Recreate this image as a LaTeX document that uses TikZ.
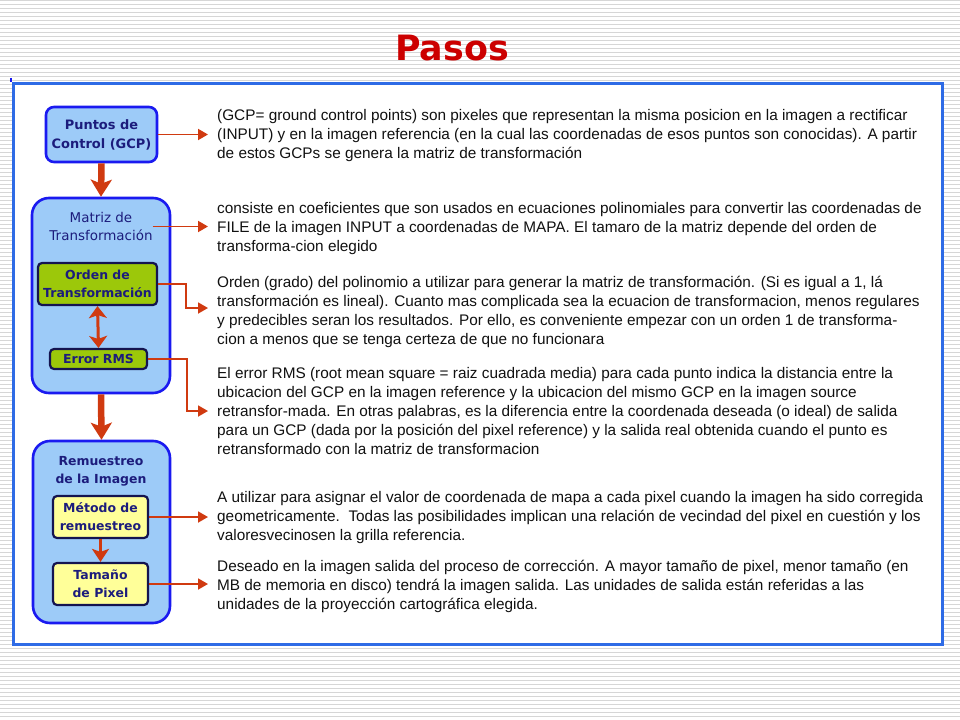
\documentclass[tikz,border=0pt]{standalone}
\usepackage{fontspec}
\setmainfont{Liberation Sans}
\newfontfamily\labfont{DejaVu Sans}
\usetikzlibrary{arrows.meta}
\definecolor{stripecol}{HTML}{D6D6D6}
\definecolor{framecol}{HTML}{2E6BE6}
\definecolor{titlered}{HTML}{CC0000}
\definecolor{boxfill}{HTML}{9DCBF8}
\definecolor{boxline}{HTML}{1A1AF0}
\definecolor{labcol}{HTML}{1C1C7C}
\definecolor{greenfill}{HTML}{9CC80A}
\definecolor{yellowfill}{HTML}{FFFF99}
\definecolor{innerline}{HTML}{141450}
\definecolor{arrowred}{HTML}{D03A10}
\definecolor{txtcol}{HTML}{111111}
\tikzset{
  stripe/.style={draw=stripecol, line width=1.1bp},
  framebox/.style={draw=framecol, line width=3bp, fill=white},
  titlestyle/.style={text=titlered, font=\labfont\bfseries\fontsize{35}{40}\selectfont, inner sep=0},
  bigbox/.style={draw=boxline, fill=boxfill, line width=2.6bp, inner sep=0, align=center, text=labcol},
  boxtitle/.style={inner sep=0, align=center, text=labcol},
  innerbox/.style={draw=innerline, line width=2.2bp, rounded corners=4bp, inner sep=0, align=center, text=labcol, font=\labfont\bfseries\fontsize{12.5}{18}\selectfont},
  txt/.style={anchor=base west, inner sep=0, text=txtcol, font=\fontsize{15.4}{19}\selectfont},
  thickarrow/.style={draw=arrowred, line width=6.5bp, -{Stealth[length=17bp,width=21bp,inset=4bp]}},
  midarrow/.style={draw=arrowred, line width=3.5bp, -{Stealth[length=13bp,width=17bp,inset=3bp]}},
  dblarrow/.style={draw=arrowred, line width=3bp, {Stealth[length=12bp,width=18bp,inset=3bp]}-{Stealth[length=12bp,width=18bp,inset=3bp]}},
  sidearrow/.style={draw=arrowred, line width=1.8bp, -{Triangle[length=10bp,width=11bp]}},
}
\begin{document}
\begin{tikzpicture}[x=1bp,y=-1bp]
\useasboundingbox (0,0) rectangle (960,720);
\fill[white] (0,0) rectangle (960,720);
\foreach \k in {0,...,179} \draw[stripe] (0,{\k*4+0.7}) -- (960,{\k*4+0.7});
\draw[framebox] (13,84) rectangle (942,644);
\draw[draw=boxline, line width=1.2bp] (11,78) -- (11,82);

\node[titlestyle] (ttl) at (452,48) {Pasos};

% left column boxes
\node[bigbox, rounded corners=8bp, minimum width=111bp, minimum height=55bp,
      font=\labfont\bfseries\fontsize{13}{19}\selectfont] (gcp) at (101.5,134.5) {Puntos de\\Control (GCP)};
\node[bigbox, rounded corners=17bp, minimum width=138bp, minimum height=195bp] (mat) at (101,295.5) {};
\node[boxtitle, font=\labfont\fontsize{13.5}{19}\selectfont] (mattl) at (101,226.5) {Matriz de\\Transformación};
\node[innerbox, fill=greenfill, minimum width=119bp, minimum height=42bp] (ord) at (97.5,284) {Orden de\\Transformación};
\node[innerbox, fill=greenfill, minimum width=97bp, minimum height=20bp] (err) at (98.5,359) {Error RMS};
\node[bigbox, rounded corners=17bp, minimum width=137bp, minimum height=182bp] (rem) at (101.5,532) {};
\node[boxtitle, font=\labfont\bfseries\fontsize{12.5}{18}\selectfont] (remtl) at (101,471) {Remuestreo\\de la Imagen};
\node[innerbox, fill=yellowfill, minimum width=95bp, minimum height=42bp] (met) at (100.5,517) {Método de\\remuestreo};
\node[innerbox, fill=yellowfill, minimum width=95bp, minimum height=42bp] (tam) at (100.5,584) {Tamaño\\de Pixel};

% vertical arrows
\draw[thickarrow] (gcp.south) -- (mat.north);
\draw[thickarrow] (mat.south) -- (rem.north);
\draw[dblarrow] (ord.south) -- (err.north);
\draw[midarrow] (met.south) -- (tam.north);

% arrow targets
\coordinate (a1) at (208,134.5);
\coordinate (a2) at (208,226.5);
\coordinate (a3) at (208,308);
\coordinate (a4) at (208,411);
\coordinate (a5) at (208,517);
\coordinate (a6) at (208,584);

\draw[sidearrow] (gcp.east) -- (a1);
\draw[sidearrow] (mattl.east) -- (a2);
\draw[sidearrow] (ord.east) -- ++(28,0) |- (a3);
\draw[sidearrow] (err.east) -- ++(39,0) |- (a4);
\draw[sidearrow] (met.east) -- (a5);
\draw[sidearrow] (tam.east) -- (a6);

% text blocks
\node[txt] (b1a) at (217,121) {(GCP= ground control points) son pixeles que representan la misma posicion en la imagen a rectificar};
\node[txt] (b1b) at (217,140) {(INPUT) y en la imagen referencia (en la cual las coordenadas de esos puntos son conocidas). A partir};
\node[txt] (b1c) at (217,159) {de estos GCPs se genera la matriz de transformación};

\node[txt] (b2a) at (217,213) {consiste en coeficientes que son usados en ecuaciones polinomiales para convertir las coordenadas de};
\node[txt] (b2b) at (217,232) {FILE de la imagen INPUT a coordenadas de MAPA. El tamaro de la matriz depende del orden de};
\node[txt] (b2c) at (217,251) {transforma-cion elegido};

\node[txt] (b3a) at (217,287) {Orden (grado) del polinomio a utilizar para generar la matriz de transformación. (Si es igual a 1, lá};
\node[txt] (b3b) at (217,306) {transformación es lineal). Cuanto mas complicada sea la ecuacion de transformacion, menos regulares};
\node[txt] (b3c) at (217,325) {y predecibles seran los resultados. Por ello, es conveniente empezar con un orden 1 de transforma-};
\node[txt] (b3d) at (217,344) {cion a menos que se tenga certeza de que no funcionara};

\node[txt] (b4a) at (217,378) {El error RMS (root mean square = raiz cuadrada media) para cada punto indica la distancia entre la};
\node[txt] (b4b) at (217,397) {ubicacion del GCP en la imagen reference y la ubicacion del mismo GCP en la imagen source};
\node[txt] (b4c) at (217,416) {retransfor-mada. En otras palabras, es la diferencia entre la coordenada deseada (o ideal) de salida};
\node[txt] (b4d) at (217,435) {para un GCP (dada por la posición del pixel reference) y la salida real obtenida cuando el punto es};
\node[txt] (b4e) at (217,454) {retransformado con la matriz de transformacion};

\node[txt] (b5a) at (217,502) {A utilizar para asignar el valor de coordenada de mapa a cada pixel cuando la imagen ha sido corregida};
\node[txt] (b5b) at (217,521) {geometricamente.\ \ Todas las posibilidades implican una relación de vecindad del pixel en cuestión y los};
\node[txt] (b5c) at (217,540) {valoresvecinosen la grilla referencia.};

\node[txt] (b6a) at (217,571) {Deseado en la imagen salida del proceso de corrección. A mayor tamaño de pixel, menor tamaño (en};
\node[txt] (b6b) at (217,590) {MB de memoria en disco) tendrá la imagen salida. Las unidades de salida están referidas a las};
\node[txt] (b6c) at (217,609) {unidades de la proyección cartográfica elegida.};
\end{tikzpicture}
\end{document}
